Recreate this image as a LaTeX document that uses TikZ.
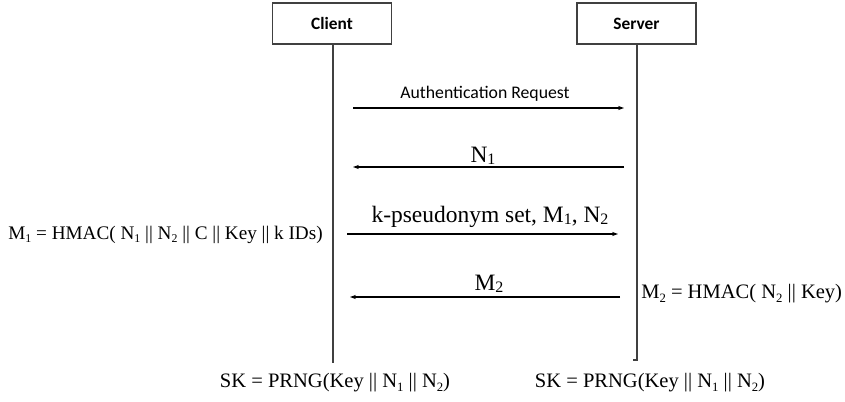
\documentclass[tikz,border=0pt]{standalone}
\usepackage{fontspec}
\setmainfont{Liberation Serif}
\newfontfamily\calibri{Carlito}
\usetikzlibrary{arrows.meta}
\newcommand\lsub[1]{\raisebox{-0.12em}{\scalebox{0.68}{#1}}}
\newcommand\esub[1]{\raisebox{-0.2em}{\scalebox{0.62}{#1}}}
\begin{document}
\begin{tikzpicture}[x=0.75pt,y=-0.75pt,
  actor/.style={draw=black!75, line width=1.1pt, fill=white, minimum width=89pt,
    minimum height=30.75pt, inner sep=0pt, font=\calibri\bfseries\fontsize{13}{15}\selectfont},
  life/.style={draw=black!75, line width=1.4pt},
  msg/.style={draw=black, line width=0.8pt, -{Stealth[length=4.5pt,width=3.2pt]}},
  biglbl/.style={font=\fontsize{17.6}{20}\selectfont, inner sep=0pt, anchor=base},
  sanslbl/.style={font=\calibri\fontsize{13.3}{15}\selectfont, inner sep=0pt, anchor=base},
  eqlbl/.style={font=\fontsize{15.4}{18}\selectfont, inner sep=0pt}]
\useasboundingbox (0,0) rectangle (845,401);

% actors
\node[actor] (client) at (332,23.5) {Client};
\node[actor] (server) at (636.5,23.5) {Server};

% lifeline ends
\coordinate (cend) at (333,363);
\coordinate (send) at (637,360);
\coordinate (stick) at (633,360);
\draw[life] (client.south -| cend) -- (cend);
\draw[life] (server.south -| send) -- (send) -- (stick);

% message end points
\coordinate (a1s) at (353,108); \coordinate (a1e) at (624,108);
\coordinate (a2s) at (624,167); \coordinate (a2e) at (353,167);
\coordinate (a3s) at (347,234); \coordinate (a3e) at (618,234);
\coordinate (a4s) at (620,297); \coordinate (a4e) at (350,297);

\draw[msg] (a1s) -- (a1e);
\draw[msg] (a2s) -- (a2e);
\draw[msg] (a3s) -- (a3e);
\draw[msg] (a4s) -- (a4e);

% message labels
\node[sanslbl] (l1) at (485,98) {Authentication Request};
\node[biglbl] (l2) at (483,162) {N\lsub{1}};
\node[biglbl] (l3) at (490,222) {k-pseudonym set, M\lsub{1}, N\lsub{2}};
\node[biglbl] (l4) at (489,290) {M\lsub{2}};

% computations
\node[eqlbl, anchor=base east, font=\fontsize{14.4}{17}\selectfont] (m1) at (323,239)
  {M\esub{1} = HMAC( N\esub{1} || N\esub{2} || C || Key || k IDs)};
\node[eqlbl, anchor=base west] (m2) at (641,298)
  {M\esub{2} = HMAC( N\esub{2} || Key)};
\node[eqlbl, anchor=base] (sk1) at (335,387)
  {SK = PRNG(Key || N\esub{1} || N\esub{2})};
\node[eqlbl, anchor=base] (sk2) at (650,387)
  {SK = PRNG(Key || N\esub{1} || N\esub{2})};
\end{tikzpicture}
\end{document}
